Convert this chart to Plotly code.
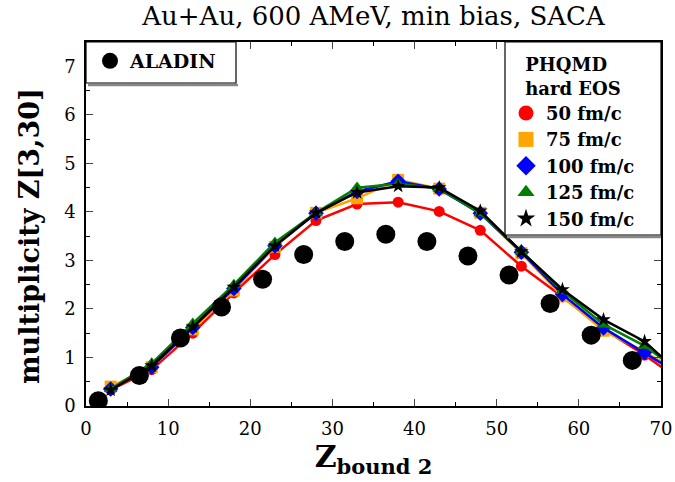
import plotly.graph_objects as go

# ---------------- data ----------------
aladin_z = [1.5, 6.5, 11.5, 16.5, 21.5, 26.5, 31.5, 36.5, 41.5, 46.5, 51.5, 56.5, 61.5, 66.5]
aladin_m = [0.11, 0.63, 1.40, 2.04, 2.61, 3.12, 3.39, 3.54, 3.39, 3.09, 2.70, 2.11, 1.46, 0.94]

model_z = [3, 8, 13, 18, 23, 28, 33, 38, 43, 48, 53, 58, 63, 68, 73]
m_50 = [0.33, 0.75, 1.50, 2.33, 3.12, 3.82, 4.16, 4.20, 4.01, 3.62, 2.88, 2.25, 1.58, 1.05, 0.45]
m_75 = [0.40, 0.80, 1.58, 2.38, 3.28, 3.98, 4.28, 4.66, 4.48, 3.98, 3.15, 2.26, 1.55, 1.12, 0.62]
m_100 = [0.35, 0.80, 1.62, 2.42, 3.30, 3.97, 4.42, 4.63, 4.47, 3.97, 3.17, 2.30, 1.61, 1.10, 0.575]
m_125 = [0.35, 0.88, 1.70, 2.50, 3.37, 3.98, 4.50, 4.58, 4.48, 3.97, 3.19, 2.37, 1.68, 1.24, 0.615]
m_150 = [0.33, 0.83, 1.63, 2.45, 3.30, 3.98, 4.40, 4.53, 4.50, 4.02, 3.18, 2.40, 1.78, 1.33, 0.555]

series_names = ["50 fm/c", "75 fm/c", "100 fm/c", "125 fm/c", "150 fm/c"]
series_vals = [m_50, m_75, m_100, m_125, m_150]
series_colors = ["#ff0000", "#ffa500", "#0000ff", "#008000", "#000000"]
series_symbols = ["circle", "square", "diamond", "triangle-up", "star"]
series_sizes = [11, 12, 12, 12, 11]

FONT = "DejaVu Serif"

fig = go.Figure()

for name, vals, col, sym, sz in zip(series_names, series_vals, series_colors, series_symbols, series_sizes):
    fig.add_trace(go.Scatter(
        x=model_z, y=vals, mode="lines+markers", showlegend=False,
        line=dict(color=col, width=2.5),
        marker=dict(color=col, symbol=sym, size=sz, line=dict(width=0)),
        hoverinfo="skip"))

fig.add_trace(go.Scatter(
    x=aladin_z, y=aladin_m, mode="markers", name="<b>ALADIN</b>",
    marker=dict(color="black", size=19, symbol="circle"), legend="legend"))

for name, col, sym, sz in zip(series_names, series_colors, series_symbols, series_sizes):
    fig.add_trace(go.Scatter(
        x=[None], y=[None], mode="markers", name="<b>" + name + "</b>",
        marker=dict(color=col, symbol=sym, size=15 if sym != "star" else 14),
        legend="legend2"))

# plot area in px: x 86..661, y 42..406
def px_x(p):
    return (p - 86) / 575.0

def px_y(p):
    return (406 - p) / 364.0

shapes = []
# shadows
shapes.append(dict(type="line", xref="paper", yref="paper", x0=px_x(88), x1=px_x(238), y0=px_y(85), y1=px_y(85),
                   line=dict(color="#888888", width=2.5), layer="above"))
shapes.append(dict(type="line", xref="paper", yref="paper", x0=px_x(507), x1=px_x(661), y0=px_y(237), y1=px_y(237),
                   line=dict(color="#888888", width=2.5), layer="above"))
# boxes
shapes.append(dict(type="rect", xref="paper", yref="paper", x0=0, x1=px_x(236), y0=px_y(83), y1=1,
                   line=dict(color="black", width=1.2), fillcolor="white", layer="above"))
shapes.append(dict(type="rect", xref="paper", yref="paper", x0=px_x(505), x1=1, y0=px_y(235), y1=1,
                   line=dict(color="black", width=1.2), fillcolor="white", layer="above"))

annotations = [dict(text="<b>multiplicity Z[3,30]</b>", textangle=-90, xref="paper", yref="paper",
                    x=px_x(29), y=px_y(236), xanchor="center", yanchor="middle", showarrow=False,
                    font=dict(family=FONT, size=27))]

fig.update_layout(
    width=675, height=482,
    margin=dict(l=86, r=14, t=42, b=76, autoexpand=False),
    paper_bgcolor="white", plot_bgcolor="white",
    font=dict(family=FONT, color="black", size=17),
    title=dict(text="Au+Au, 600 AMeV, min bias, SACA", x=(86 + 661) / 2 / 675, xanchor="center",
               y=1 - 16 / 482, yanchor="middle", font=dict(family=FONT, size=26)),
    shapes=shapes,
    annotations=annotations,
    legend=dict(x=px_x(90), y=px_y(42), xanchor="left", yanchor="top", bgcolor="rgba(0,0,0,0)",
                borderwidth=0, font=dict(family=FONT, size=19), itemsizing="trace"),
    legend2=dict(x=px_x(506), y=px_y(48), xanchor="left", yanchor="top", bgcolor="rgba(0,0,0,0)",
                 borderwidth=0, font=dict(family=FONT, size=18), tracegroupgap=0,
                 title=dict(text="<b>PHQMD</b><br><b>hard EOS</b>", side="top center",
                            font=dict(family=FONT, size=18))),
    xaxis=dict(range=[0, 70], dtick=10, tick0=0, ticks="inside", ticklen=7, tickwidth=1,
               showline=True, linecolor="black", linewidth=1.5, mirror="ticks", showgrid=False, zeroline=False,
               automargin=False, ticklabelstandoff=6,
               minor=dict(dtick=5, ticks="inside", ticklen=4, tickcolor="black"),
               tickfont=dict(family=FONT, size=18),
               title=dict(text="<b>Z<sub>bound 2</sub></b>", font=dict(family=FONT, size=30), standoff=8)),
    yaxis=dict(range=[0, 7.5], dtick=1, tick0=0, ticks="inside", ticklen=7, tickwidth=1,
               showline=True, linecolor="black", linewidth=1.5, mirror="ticks", showgrid=False, zeroline=False,
               automargin=False, ticklabelstandoff=5,
               minor=dict(dtick=0.5, ticks="inside", ticklen=4, tickcolor="black"),
               tickfont=dict(family=FONT, size=18)),
)

fig.write_html("out.html", config={"displayModeBar": False},
               post_script="document.body.style.margin='0px';")
